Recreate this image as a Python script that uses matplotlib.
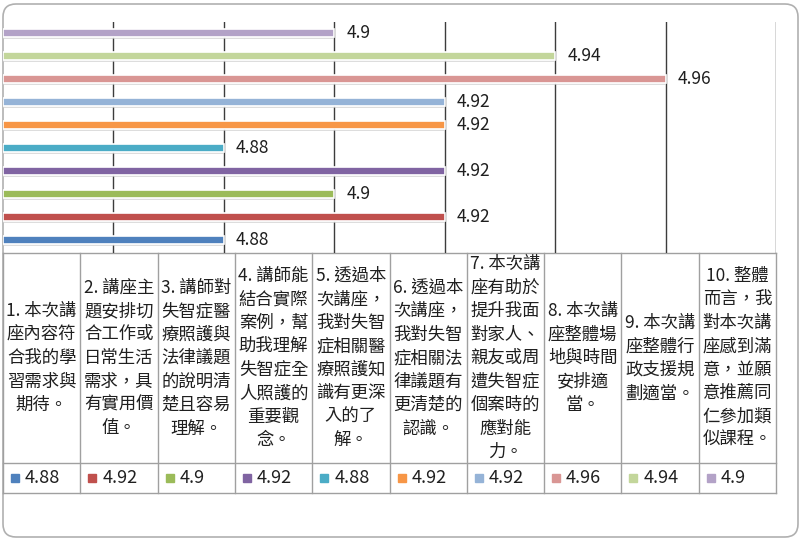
import numpy as np
import matplotlib
matplotlib.use('Agg')
import matplotlib.pyplot as plt
from matplotlib.patches import FancyBboxPatch

plt.rcParams['font.family'] = ['Noto Sans CJK TC', 'DejaVu Sans']
plt.rcParams['font.weight'] = 'light'

# data
values = [4.88, 4.92, 4.9, 4.92, 4.88, 4.92, 4.92, 4.96, 4.94, 4.9]
colors = ['#4F81BD', '#C0504D', '#9BBB59', '#8064A2', '#4BACC6',
          '#F79646', '#95B3D7', '#D99694', '#C3D69B', '#B3A2C7']
labels = [
    ['1. 本次講', '座內容符', '合我的學', '習需求與', '期待。'],
    ['2. 講座主', '題安排切', '合工作或', '日常生活', '需求，具', '有實用價', '值。'],
    ['3. 講師對', '失智症醫', '療照護與', '法律議題', '的說明清', '楚且容易', '理解。'],
    ['4. 講師能', '結合實際', '案例，幫', '助我理解', '失智症全', '人照護的', '重要觀', '念。'],
    ['5. 透過本', '次講座，', '我對失智', '症相關醫', '療照護知', '識有更深', '入的了', '解。'],
    ['6. 透過本', '次講座，', '我對失智', '症相關法', '律議題有', '更清楚的', '認識。'],
    ['7. 本次講', '座有助於', '提升我面', '對家人、', '親友或周', '遭失智症', '個案時的', '應對能', '力。'],
    ['8. 本次講', '座整體場', '地與時間', '安排適', '當。'],
    ['9. 本次講', '座整體行', '政支援規', '劃適當。'],
    ['10. 整體', '而言，我', '對本次講', '座感到滿', '意，並願', '意推薦同', '仁參加類', '似課程。'],
]
grid_ticks = [4.86, 4.88, 4.90, 4.92, 4.94, 4.96, 4.98]

txt_color = '#1f1f1f'
line_color = '#a0a0a0'

fig = plt.figure(figsize=(8, 5.4), dpi=100)

# overlay axes in pixel coordinates for chart frame and data table
bg = fig.add_axes([0, 0, 1, 1])
bg.set_xlim(0, 800)
bg.set_ylim(540, 0)
bg.axis('off')
frame = FancyBboxPatch((3, 4), 795, 533, boxstyle='round,pad=0,rounding_size=13',
                       facecolor='white', edgecolor='#b0b0b0', linewidth=1.2, zorder=0)
bg.add_patch(frame)

# table
left, right = 3, 776
col_w = (right - left) / len(values)
top, mid, bottom = 253, 463, 493
for yy in [top, mid, bottom]:
    bg.plot([left, right], [yy, yy], color=line_color, lw=1, zorder=1)
for i in range(len(values) + 1):
    xx = left + i * col_w
    bg.plot([xx, xx], [top, bottom], color=line_color, lw=1, zorder=1)

line_h = 23.5
for i, lines in enumerate(labels):
    cx = left + (i + 0.5) * col_w
    cy = (top + mid) / 2
    n = len(lines)
    for j, s in enumerate(lines):
        bg.text(cx, cy + (j - (n - 1) / 2) * line_h, s, ha='center', va='center',
                fontsize=12.5, color=txt_color)
    x0 = left + i * col_w
    vy = (mid + bottom) / 2
    bg.plot(x0 + 12, vy, marker='s', markersize=5.2, color=colors[i], linestyle='none')
    bg.text(x0 + 22, vy, f'{values[i]:g}', ha='left', va='center',
            fontsize=13, color=txt_color)

# bar chart
ax = fig.add_axes([3 / 800, (540 - 253) / 540, 773 / 800, 231 / 540])
ax.set_facecolor('none')
ypos = np.arange(len(values))
ax.barh(ypos - 0.1, np.array(values) - 4.84, left=4.84, height=0.36,
        color='#cfcfcf', alpha=0.7, zorder=2)
ax.barh(ypos, np.array(values) - 4.84, left=4.84, height=0.36, color=colors,
        edgecolor='white', linewidth=1.2, zorder=3)
for t in grid_ticks:
    ax.axvline(t, color='#3c3c3c', lw=1, zorder=1)
for y, v in zip(ypos, values):
    ax.annotate(f'{v:g}', (v, y), xytext=(12, 0), textcoords='offset pixels',
                ha='left', va='center', fontsize=12.5, color=txt_color)
ax.set_xlim(4.84, 4.98)
ax.set_ylim(-0.565, 9.478)
ax.set_xticks([])
ax.set_yticks([])
for sp in ax.spines.values():
    sp.set_visible(False)

fig.savefig('out.png', dpi=100)
